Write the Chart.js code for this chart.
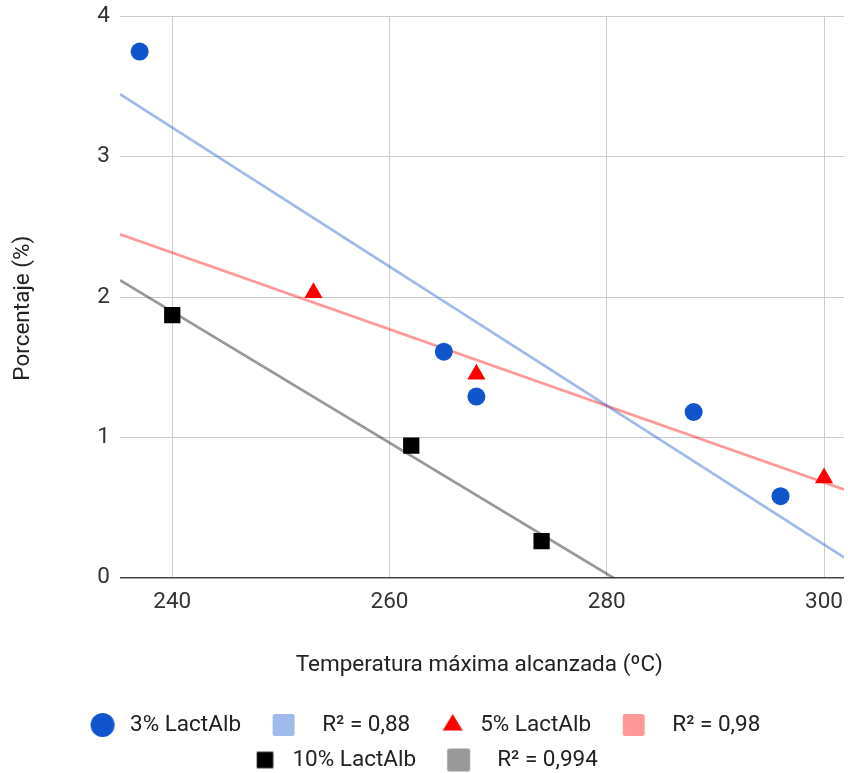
<!DOCTYPE html>
<html>
<head>
<meta charset="utf-8">
<script src="https://cdn.jsdelivr.net/npm/chart.js@4.4.0/dist/chart.umd.min.js"></script>
<style>
html,body{margin:0;padding:0;background:#ffffff;}
#wrap{width:848px;height:773px;position:relative;}
</style>
</head>
<body>
<div id="wrap"><canvas id="c" width="848" height="773"></canvas></div>
<script>
// ---- data ----
const temp3 = [237, 265, 268, 288, 296];
const pct3  = [3.75, 1.61, 1.29, 1.18, 0.58];
const temp5 = [253, 268, 300];
const pct5  = [2.03, 1.45, 0.71];
const temp10 = [240, 262, 274];
const pct10  = [1.87, 0.94, 0.26];
const seriesNames = ['3% LactAlb', '5% LactAlb', '10% LactAlb'];
const r2Labels = ['R² = 0,88', 'R² = 0,98', 'R² = 0,994'];
const xTicks = [240, 260, 280, 300];
const yTicks = [0, 1, 2, 3, 4];
const xRange = [235.19, 301.84];
const yRange = [0, 4];
const xTitle = 'Temperatura máxima alcanzada (ºC)';
const yTitle = 'Porcentaje (%)';

// ---- styling ----
const FONT = 'Roboto';
const FS = 22.5;
const seriesColors = ['#1155cc', '#ff0000', '#000000'];
const trendColors = ['rgba(17,85,204,0.4)', 'rgba(255,0,0,0.4)', 'rgba(0,0,0,0.4)'];
const trendSwatch = ['#a0bbeb', '#ff9999', '#999999'];

function pts(xs, ys){ return xs.map((x,i)=>({x:x, y:ys[i]})); }
function linFit(xs, ys){
  const n = xs.length;
  const mx = xs.reduce((a,b)=>a+b,0)/n, my = ys.reduce((a,b)=>a+b,0)/n;
  let sxy=0, sxx=0;
  xs.forEach((x,i)=>{ sxy += (x-mx)*(ys[i]-my); sxx += (x-mx)*(x-mx); });
  const m = sxy/sxx;
  return x => my + m*(x-mx);
}
function trend(xs, ys){ const f = linFit(xs, ys); return xRange.map(x=>({x:x, y:f(x)})); }

// legend icons
const DX = 6.9;
function icon(kind, color, size){
  const pad = 3;
  const w = Math.ceil(2*(DX + size/2 + pad));
  const h = Math.ceil(size + 2*pad);
  const c = document.createElement('canvas');
  c.width = w; c.height = h;
  const g = c.getContext('2d');
  const cx = w/2 + DX, cy = h/2;
  g.fillStyle = color;
  g.beginPath();
  if (kind === 'circle') {
    g.arc(cx, cy, size/2, 0, Math.PI*2);
  } else if (kind === 'triangle') {
    g.moveTo(cx, cy - size*0.55);
    g.lineTo(cx + size/2, cy + size*0.27);
    g.lineTo(cx - size/2, cy + size*0.27);
    g.closePath();
  } else {
    const x0 = cx - size/2, y0 = cy - size/2, r = kind === 'rsquare' ? 2.5 : 0;
    g.moveTo(x0 + r, y0);
    g.lineTo(x0 + size - r, y0); g.quadraticCurveTo(x0+size, y0, x0+size, y0+r);
    g.lineTo(x0 + size, y0 + size - r); g.quadraticCurveTo(x0+size, y0+size, x0+size-r, y0+size);
    g.lineTo(x0 + r, y0 + size); g.quadraticCurveTo(x0, y0+size, x0, y0+size-r);
    g.lineTo(x0, y0 + r); g.quadraticCurveTo(x0, y0, x0+r, y0);
    g.closePath();
  }
  g.fill();
  return c;
}
const legendIcons = [
  icon('circle', seriesColors[0], 24),
  icon('rsquare', trendSwatch[0], 22),
  icon('triangle', seriesColors[1], 20),
  icon('rsquare', trendSwatch[1], 22),
  icon('square', seriesColors[2], 16.5),
  icon('rsquare', trendSwatch[2], 23)
];
const legendTexts = [
  seriesNames[0], '  ' + r2Labels[0],
  seriesNames[1], '  ' + r2Labels[1] + '  ',
  seriesNames[2], '  ' + r2Labels[2] + '  '
];

const datasets = [
  { label: seriesNames[0], data: pts(temp3, pct3), pointStyle: 'circle', pointRadius: 9,
    backgroundColor: seriesColors[0], borderColor: seriesColors[0], pointBorderWidth: 0, order: 0 },
  { label: r2Labels[0], data: trend(temp3, pct3), showLine: true, pointRadius: 0,
    borderColor: trendColors[0], borderWidth: 2.75, order: 1, clip: 0 },
  { label: seriesNames[1], data: pts(temp5, pct5), pointStyle: 'triangle', pointRadius: 10.5,
    backgroundColor: seriesColors[1], borderColor: seriesColors[1], pointBorderWidth: 0, order: 0 },
  { label: r2Labels[1], data: trend(temp5, pct5), showLine: true, pointRadius: 0,
    borderColor: trendColors[1], borderWidth: 2.75, order: 1, clip: 0 },
  { label: seriesNames[2], data: pts(temp10, pct10), pointStyle: 'rect', pointRadius: 11.5,
    backgroundColor: seriesColors[2], borderColor: seriesColors[2], pointBorderWidth: 0, order: 0 },
  { label: r2Labels[2], data: trend(temp10, pct10), showLine: true, pointRadius: 0,
    borderColor: trendColors[2], borderWidth: 2.75, order: 1, clip: 0 }
];

new Chart(document.getElementById('c'), {
  type: 'scatter',
  data: { datasets: datasets },
  options: {
    responsive: false,
    animation: false,
    events: [],
    devicePixelRatio: 1,
    layout: { autoPadding: false, padding: { top: 16.5, right: 4, bottom: -8.25, left: 0 } },
    plugins: {
      tooltip: { enabled: false },
      legend: {
        display: true,
        position: 'bottom',
        align: 'center',
        labels: {
          usePointStyle: true,
          pointStyleWidth: 46.25,
          padding: 12.5,
          color: '#222',
          font: { family: FONT, size: FS },
          generateLabels: () => legendTexts.map((t, i) => ({
            text: t, pointStyle: legendIcons[i], fillStyle: '#000', strokeStyle: '#000',
            lineWidth: 0, hidden: false, datasetIndex: i, fontColor: '#222'
          }))
        }
      }
    },
    scales: {
      x: {
        type: 'linear', min: xRange[0], max: xRange[1],
        afterBuildTicks: s => { s.ticks = xTicks.map(v => ({ value: v })); },
        afterFit: s => { s.height = 123.75; s.paddingLeft = 0; s.paddingRight = 0; },
        ticks: { font: { family: FONT, size: FS }, color: '#333', padding: 11, maxRotation: 0, autoSkip: false,
                 callback: v => String(v) },
        grid: { color: '#cccccc', lineWidth: 1, drawTicks: false },
        border: { display: false },
        title: { display: true, text: xTitle + ' ', font: { family: FONT, size: FS }, color: '#222',
                 padding: { top: 0, bottom: 22.5 } }
      },
      y: {
        type: 'linear', min: yRange[0], max: yRange[1],
        afterBuildTicks: s => { s.ticks = yTicks.map(v => ({ value: v })); },
        afterFit: s => { s.width = 120; s.paddingTop = 0; s.paddingBottom = 0; },
        ticks: { font: { family: FONT, size: FS }, color: '#333', padding: 10, callback: v => String(v) },
        grid: {
          color: c => (c.tick && c.tick.value === 0) ? '#444444' : '#cccccc',
          lineWidth: c => (c.tick && c.tick.value === 0) ? 1.5 : 1,
          drawTicks: false
        },
        border: { display: false },
        title: { display: true, text: yTitle + '    ', font: { family: FONT, size: FS }, color: '#222',
                 padding: { top: 10, bottom: 0 } }
      }
    }
  }
});
</script>
</body>
</html>
